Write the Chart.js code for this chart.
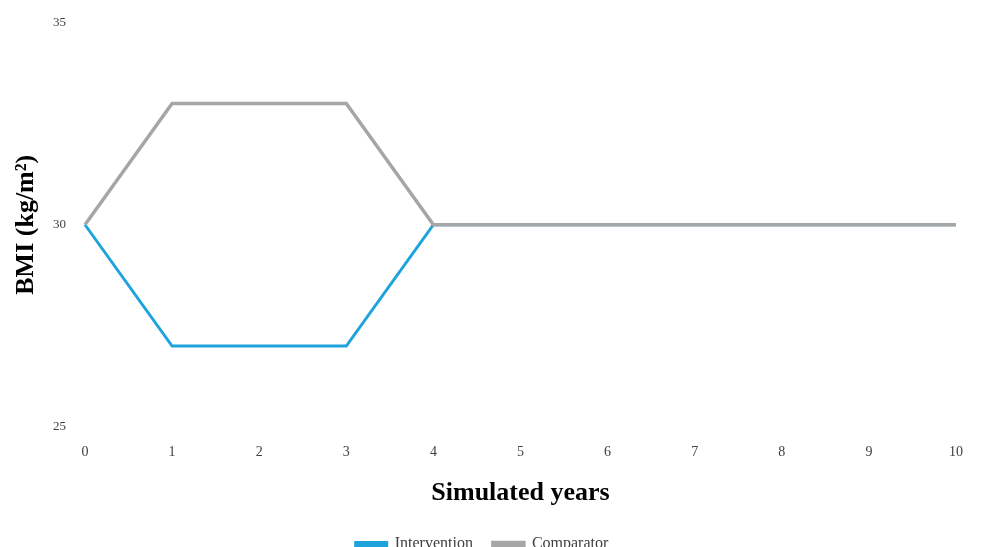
<!DOCTYPE html>
<html>
<head>
<meta charset="utf-8">
<script src="https://cdn.jsdelivr.net/npm/chart.js@4/dist/chart.umd.min.js"></script>
<style>
  html, body { margin: 0; padding: 0; background: #fff; overflow: hidden; }
  #wrap { width: 984px; height: 547px; position: relative; overflow: hidden; }
  #inner { position: absolute; left: 0; top: -3px; width: 984px; height: 550px; }
</style>
</head>
<body>
<div id="wrap"><div id="inner"><canvas id="bmiChart"></canvas></div></div>
<script>
const years = ['0', '1', '2', '3', '4', '5', '6', '7', '8', '9', '10'];
const intervention = [30, 27, 27, 27, 30, 30, 30, 30, 30, 30, 30];
const comparator = [30, 33, 33, 33, 30, 30, 30, 30, 30, 30, 30];
const yTicks = [25, 30, 35];

const serif = "'Liberation Serif', 'Times New Roman', serif";

new Chart(document.getElementById('bmiChart'), {
    type: 'line',
    data: {
        labels: years,
        datasets: [
            {
                label: 'Intervention',
                data: intervention,
                borderColor: '#1fa3dd',
                backgroundColor: '#1fa3dd',
                borderWidth: 3,
                pointRadius: 0,
                tension: 0,
                order: 1
            },
            {
                label: 'Comparator',
                data: comparator,
                borderColor: '#a6a6a6',
                backgroundColor: '#a6a6a6',
                borderWidth: 3.5,
                pointRadius: 0,
                tension: 0,
                order: 0
            }
        ]
    },
    options: {
        responsive: true,
        maintainAspectRatio: false,
        animation: false,
        layout: { padding: { left: 8, right: 28, top: 0, bottom: -15 } },
        plugins: {
            tooltip: { enabled: false },
            legend: {
                position: 'bottom',
                labels: {
                    boxWidth: 31,
                    boxHeight: 3,
                    padding: 20,
                    color: '#404040',
                    font: { family: serif, size: 16 },
                    sort: (a, b) => a.datasetIndex - b.datasetIndex
                }
            }
        },
        scales: {
            x: {
                offset: false,
                grid: { display: false, drawTicks: false },
                border: { display: false },
                ticks: {
                    color: '#404040',
                    font: { family: serif, size: 14 },
                    maxRotation: 0,
                    padding: 17
                },
                title: {
                    display: true,
                    text: 'Simulated years',
                    color: '#000',
                    font: { family: serif, size: 26, weight: 'bold' },
                    padding: { top: 0, bottom: 7 }
                }
            },
            y: {
                min: 25,
                max: 35,
                afterBuildTicks: axis => { axis.ticks = yTicks.map(v => ({ value: v })); },
                grid: { display: false, drawTicks: false },
                border: { display: false },
                ticks: {
                    color: '#404040',
                    font: { family: serif, size: 13, lineHeight: 1 },
                    padding: 19
                },
                title: {
                    display: true,
                    text: 'BMI (kg/m²)',
                    color: '#000',
                    font: { family: serif, size: 26, weight: 'bold', lineHeight: 1 },
                    padding: { top: 5, bottom: -5 }
                }
            }
        }
    }
});
</script>
</body>
</html>
